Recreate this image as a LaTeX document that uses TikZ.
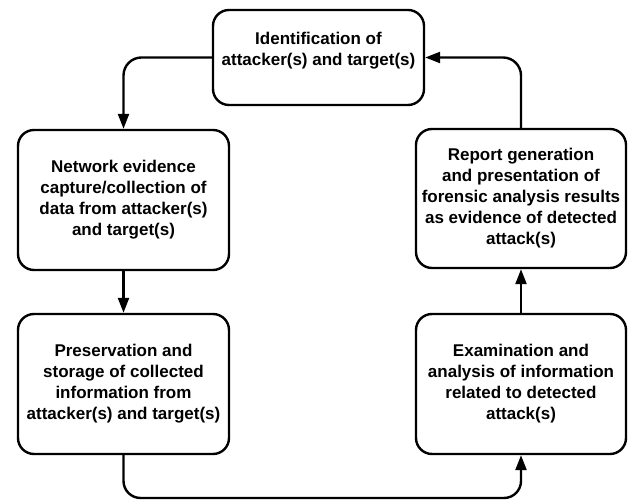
\documentclass[tikz,border=0pt]{standalone}
\usepackage{fontspec}
\setmainfont{Liberation Sans}
\usetikzlibrary{arrows.meta}
\begin{document}
\begin{tikzpicture}[x=1pt,y=1pt,
  txt/.style={align=center, inner sep=0pt, font=\bfseries\fontsize{17}{21}\selectfont},
  box/.style={txt, draw, line width=2.4pt, rounded corners=16pt, minimum width=211pt, minimum height=140pt},
  conn/.style={line width=2.4pt, rounded corners=18pt, -{Triangle[length=15pt,width=11pt]}},
 ]
\useasboundingbox (0,0) rectangle (628,502);
\node[box, minimum height=95pt] (top) at (318.5,444.5) {};
\node[txt] (toptext) at ([yshift=7pt]top.center) {Identification of\\attacker(s) and target(s)};
\node[box] (net) at (123.5,302) {Network evidence\\capture/collection of\\data from attacker(s)\\and target(s)};
\node[box, minimum width=210pt, minimum height=139pt] (rep) at (521,303.5) {Report generation\\and presentation of\\forensic analysis results\\as evidence of detected\\attack(s)};
\node[box] (pres) at (123.5,118) {Preservation and\\storage of collected\\information from\\attacker(s) and target(s)};
\node[box, minimum width=210pt] (exam) at (521,118) {Examination and\\analysis of information\\related to detected\\attack(s)};
\coordinate (bot) at (0,4);
\draw[conn] (top.west) -| (net.north);
\draw[conn] (net) -- (pres);
\draw[conn, rounded corners=17pt] (pres.south) -- (pres.south |- bot) -| (exam.south);
\draw[conn] (exam) -- (rep);
\draw[conn] (rep.north) |- (top.east);
\end{tikzpicture}
\end{document}
